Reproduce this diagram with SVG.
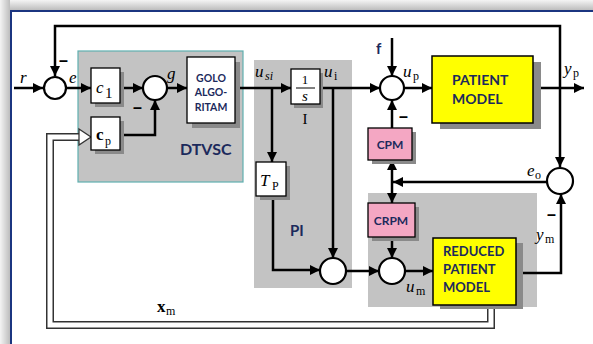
<svg xmlns="http://www.w3.org/2000/svg" width="593" height="344" viewBox="0 0 593 344">
<defs>
<linearGradient id="gTop" x1="0" y1="0" x2="0" y2="1"><stop offset="0" stop-color="#f4f4f4"/><stop offset="1" stop-color="#bdbdbd"/></linearGradient>
<linearGradient id="gLeft" x1="0" y1="0" x2="1" y2="0"><stop offset="0" stop-color="#f4f4f4"/><stop offset="1" stop-color="#bdbdbd"/></linearGradient>
<marker id="ar" viewBox="0 0 10 10" refX="10" refY="5" markerWidth="11" markerHeight="10" markerUnits="userSpaceOnUse" orient="auto"><path d="M0,0 L10,5 L0,10 Z" fill="#000"/></marker>
<style>
.ln{fill:none;stroke:#000;stroke-width:2.5}
.sum{fill:#fff;stroke:#000;stroke-width:2.2}
.box{fill:#fff;stroke:#000;stroke-width:1.3}
.sh{fill:#8a8a8a}
.grp{fill:#c3c3c3}
.m{font-family:"Liberation Serif",serif;font-style:italic;font-size:17px;fill:#000}
.mb{font-family:"Liberation Serif",serif;font-weight:bold;font-size:17px;fill:#000}
.sub{font-family:"Liberation Serif",serif;font-size:12px;fill:#000}
.big{font-family:"Liberation Serif",serif;font-size:15px;fill:#000}
.lbl{font-family:Lato,"Liberation Sans",sans-serif;font-weight:bold;fill:#1c2a5c}
.minus{font-family:"Liberation Sans",sans-serif;font-weight:bold;font-size:16px;fill:#000}
</style>
</defs>
<rect width="593" height="344" fill="#fff"/>
<rect x="0" y="0" width="593" height="10" fill="url(#gTop)"/>
<rect x="0" y="0" width="10" height="344" fill="url(#gLeft)"/>
<path d="M11 344 V11 H593" fill="none" stroke="#1b3580" stroke-width="2"/>

<g id="dtvsc-area"><rect x="78" y="51" width="165" height="131" class="grp" stroke="#5fb0b0" stroke-width="1.2"/>
<text x="180" y="155" class="lbl" font-size="16">DTVSC</text></g>
<g id="pi-area"><rect x="254" y="60" width="98" height="228" class="grp"/>
<text x="290" y="236" class="lbl" font-size="15">PI</text></g>
<g id="reduced-area"><rect x="368" y="193" width="169" height="114" class="grp"/></g>

<g id="connectors">
<path class="ln" d="M14 88 H43" marker-end="url(#ar)"/>
<path class="ln" d="M560 88 V26 H55 V76" marker-end="url(#ar)"/>
<path class="ln" d="M560 88 V167" marker-end="url(#ar)"/>
<path class="ln" d="M67 88 H91" marker-end="url(#ar)"/>
<path class="ln" d="M120 88 H143" marker-end="url(#ar)"/>
<path class="ln" d="M120 135 H155 V100" marker-end="url(#ar)"/>
<path class="ln" d="M167 88 H187" marker-end="url(#ar)"/>
<path class="ln" d="M235 88 H291" marker-end="url(#ar)"/>
<path class="ln" d="M272 88 V162" marker-end="url(#ar)"/>
<path class="ln" d="M320 88 H380" marker-end="url(#ar)"/>
<path class="ln" d="M333 88 V258" marker-end="url(#ar)"/>
<path class="ln" d="M273 196 V270 H320" marker-end="url(#ar)"/>
<path class="ln" d="M346 271 H379" marker-end="url(#ar)"/>
<path class="ln" d="M405 271 H433" marker-end="url(#ar)"/>
<path class="ln" d="M392 237 V258" marker-end="url(#ar)"/>
<path class="ln" d="M547 182 H393" marker-end="url(#ar)"/>
<path class="ln" d="M392 182 V160" marker-end="url(#ar)"/>
<path class="ln" d="M392 182 V203" marker-end="url(#ar)"/>
<path class="ln" d="M392 128 V100" marker-end="url(#ar)"/>
<path class="ln" d="M392 38 V76" marker-end="url(#ar)"/>
<path class="ln" d="M404 88 H432" marker-end="url(#ar)"/>
<path class="ln" d="M533 88 H584" marker-end="url(#ar)"/>
<path class="ln" d="M517 273 H561 V194" marker-end="url(#ar)"/>
<path d="M491 305 V325 H50 V137 H80" fill="none" stroke="#333" stroke-width="8"/>
<path d="M491 305 V325 H50 V137 H82" fill="none" stroke="#fff" stroke-width="5"/>
<path d="M79 129 L91 137 L79 145 Z" fill="#fff" stroke="#333" stroke-width="1.3"/>
</g>

<g id="sum-r"><circle cx="55" cy="88" r="11" class="sum"/></g>
<g id="c1"><rect x="95" y="72" width="29" height="35" class="sh"/><rect x="91" y="68" width="29" height="35" class="box"/>
<text x="96" y="93" class="m">c</text><text x="105" y="98" class="big">1</text></g>
<g id="cp"><rect x="95" y="121" width="29" height="33" class="sh"/><rect x="91" y="117" width="29" height="33" class="box"/>
<text x="96" y="140" class="mb">c</text><text x="105" y="145" class="sub">p</text></g>
<g id="sum-g"><circle cx="155" cy="88" r="12" class="sum"/></g>
<g id="golo"><rect x="192" y="62" width="48" height="66" class="sh"/><rect x="187" y="57" width="48" height="66" class="box"/>
<text class="lbl" font-size="10.5" fill="#3a3a50" text-anchor="middle"><tspan x="211" y="82">GOLO</tspan><tspan x="211" y="96">ALGO-</tspan><tspan x="211" y="111">RITAM</tspan></text></g>
<g id="integrator"><rect x="294" y="73" width="29" height="35" class="sh"/><rect x="291" y="69" width="29" height="35" class="box"/>
<text x="305" y="84" class="sub" style="font-size:13px" text-anchor="middle">1</text>
<line x1="296" y1="88" x2="315" y2="88" stroke="#000" stroke-width="1"/>
<text x="305" y="101" class="m" style="font-size:15px" text-anchor="middle">s</text>
<text x="305" y="124" class="big" text-anchor="middle">I</text></g>
<g id="tp"><rect x="260" y="166" width="30" height="34" class="sh"/><rect x="256" y="162" width="30" height="34" class="box"/>
<text x="260" y="186" class="m">T</text><text x="272" y="190" class="sub">P</text></g>
<g id="sum-pi"><circle cx="333" cy="271" r="13" class="sum"/></g>
<g id="sum-up"><circle cx="392" cy="88" r="12" class="sum"/></g>
<g id="patient"><rect x="440" y="62" width="101" height="67" class="sh"/><rect x="432" y="56" width="101" height="67" fill="#ffff00" stroke="#000" stroke-width="1.5"/>
<text class="lbl" font-size="14"><tspan x="452" y="85">PATIENT</tspan><tspan x="452" y="104">MODEL</tspan></text></g>
<g id="cpm"><rect x="372" y="132" width="44" height="32" class="sh"/><rect x="368" y="128" width="44" height="32" fill="#f4a7c3" stroke="#000" stroke-width="1.3"/>
<text x="390" y="149" class="lbl" font-size="12" text-anchor="middle">CPM</text></g>
<g id="crpm"><rect x="372" y="207" width="47" height="34" class="sh"/><rect x="368" y="203" width="47" height="34" fill="#f4a7c3" stroke="#000" stroke-width="1.3"/>
<text x="391" y="225" class="lbl" font-size="12" text-anchor="middle">CRPM</text></g>
<g id="sum-um"><circle cx="392" cy="271" r="13" class="sum"/></g>
<g id="reduced"><rect x="440" y="243" width="83" height="66" class="sh"/><rect x="433" y="238" width="83" height="67" fill="#ffff00" stroke="#000" stroke-width="1.5"/>
<text class="lbl" font-size="13"><tspan x="443" y="256">REDUCED</tspan><tspan x="443" y="274">PATIENT</tspan><tspan x="443" y="292">MODEL</tspan></text></g>
<g id="sum-e0"><circle cx="560" cy="181" r="13" class="sum"/></g>

<g id="labels">
<text x="20" y="83" class="m">r</text>
<text x="69" y="83" class="m">e</text>
<text x="167" y="79" class="m">g</text>
<text x="255" y="77" class="m">u</text><text x="265" y="80" class="sub" font-style="italic">si</text>
<text x="324" y="77" class="m">u</text><text x="334" y="80" class="sub">i</text>
<text x="403" y="77" class="m">u</text><text x="413" y="80" class="sub">p</text>
<text x="564" y="74" class="m">y</text><text x="573" y="77" class="sub">p</text>
<text x="376" y="54" class="lbl" font-size="15" fill="#111">f</text>
<text x="527" y="176" class="m">e</text><text x="535" y="179" class="sub">o</text>
<text x="536" y="240" class="m">y</text><text x="545" y="243" class="sub">m</text>
<text x="406" y="292" class="m">u</text><text x="416" y="295" class="sub">m</text>
<text x="157" y="312" class="mb">x</text><text x="166" y="315" class="sub">m</text>
<text x="59" y="66" class="minus">–</text>
<text x="133" y="113" class="minus">–</text>
<text x="399" y="122" class="minus">–</text>
<text x="547" y="220" class="minus">–</text>
</g>
</svg>
